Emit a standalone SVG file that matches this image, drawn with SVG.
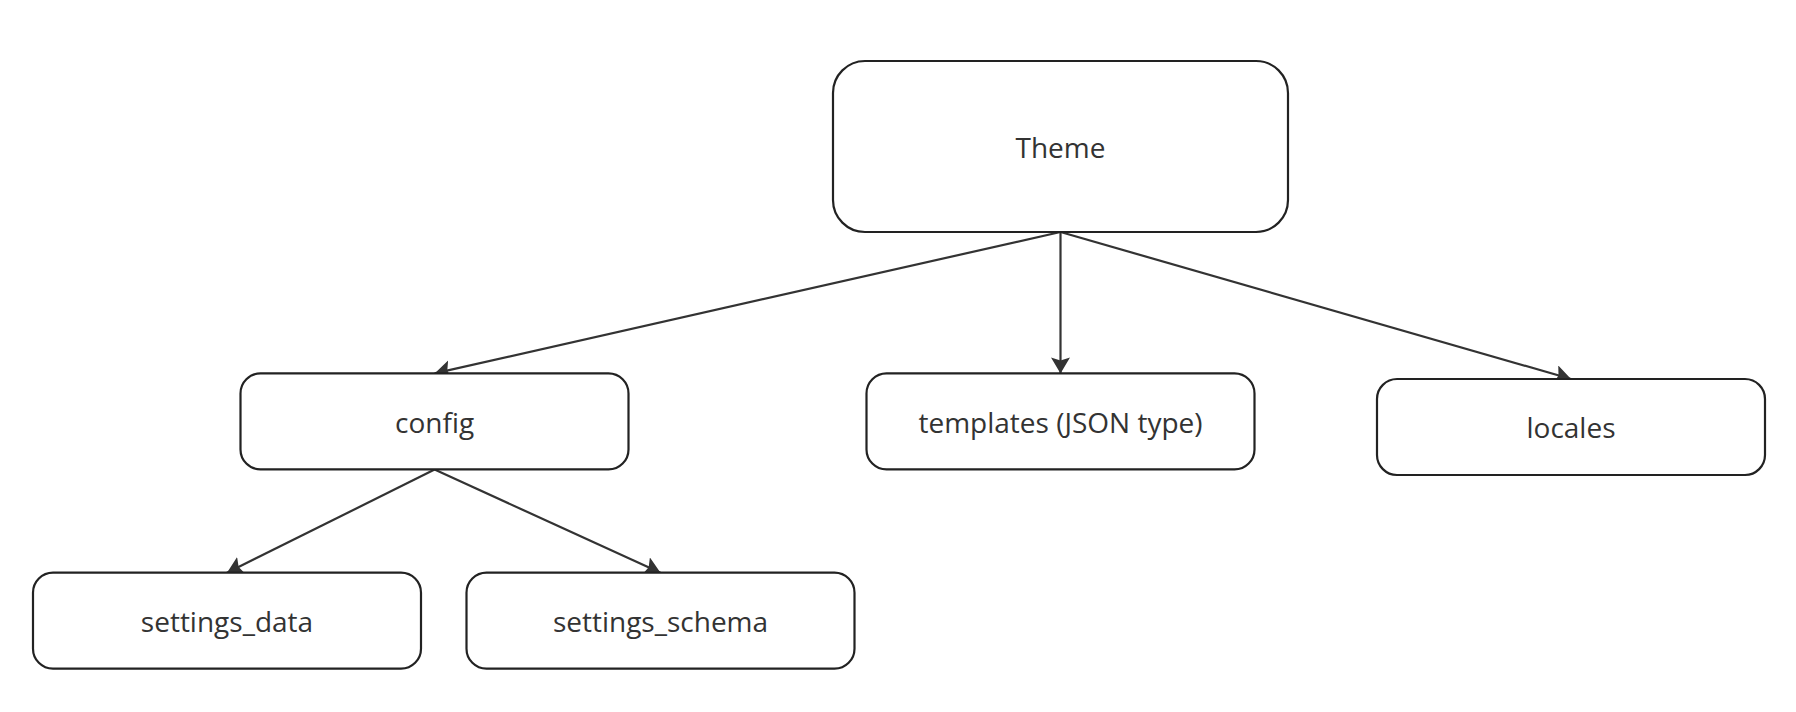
<svg xmlns="http://www.w3.org/2000/svg" width="1796" height="712" viewBox="0 0 1796 712">
<style>
.box{fill:#fff;stroke:#222;stroke-width:2.2}
.lbl{font-family:"Open Sans","Noto Sans",sans-serif;font-size:28px;fill:#333;text-anchor:middle;dominant-baseline:central}
.edge{stroke:#333;stroke-width:2.2;fill:none;marker-end:url(#ah)}
</style>
<defs>
<marker id="ah" markerWidth="18" markerHeight="20" refX="16" refY="9.5" orient="auto" markerUnits="userSpaceOnUse">
<path d="M0,0 L16,9.5 L0,19 L3,9.5 Z" fill="#333"/>
</marker>
</defs>
<rect width="1796" height="712" fill="#fff"/>
<g id="connectors">
<line class="edge" x1="1060.5" y1="232" x2="434.6" y2="373.4"/>
<line class="edge" x1="1060.5" y1="232" x2="1060.5" y2="373.4"/>
<line class="edge" x1="1060.5" y1="232" x2="1571" y2="379"/>
<line class="edge" x1="434.6" y1="469.6" x2="227" y2="572.7"/>
<line class="edge" x1="434.6" y1="469.6" x2="660.5" y2="572.7"/>
</g>
<g id="theme">
<rect class="box" x="833" y="61" width="455" height="171" rx="32"/>
<text class="lbl" x="1060.5" y="146.5">Theme</text>
</g>
<g id="config">
<rect class="box" x="240.5" y="373.4" width="388" height="96" rx="20"/>
<text class="lbl" x="434.6" y="421.5">config</text>
</g>
<g id="templates">
<rect class="box" x="866.5" y="373.4" width="388" height="96" rx="20"/>
<text class="lbl" x="1060.5" y="421.5">templates (JSON type)</text>
</g>
<g id="locales">
<rect class="box" x="1377" y="379" width="388" height="96" rx="20"/>
<text class="lbl" x="1571" y="427">locales</text>
</g>
<g id="settings_data">
<rect class="box" x="33" y="572.7" width="388" height="96" rx="20"/>
<text class="lbl" x="227" y="620.7">settings_data</text>
</g>
<g id="settings_schema">
<rect class="box" x="466.5" y="572.7" width="388" height="96" rx="20"/>
<text class="lbl" x="660.5" y="620.7">settings_schema</text>
</g>
</svg>
